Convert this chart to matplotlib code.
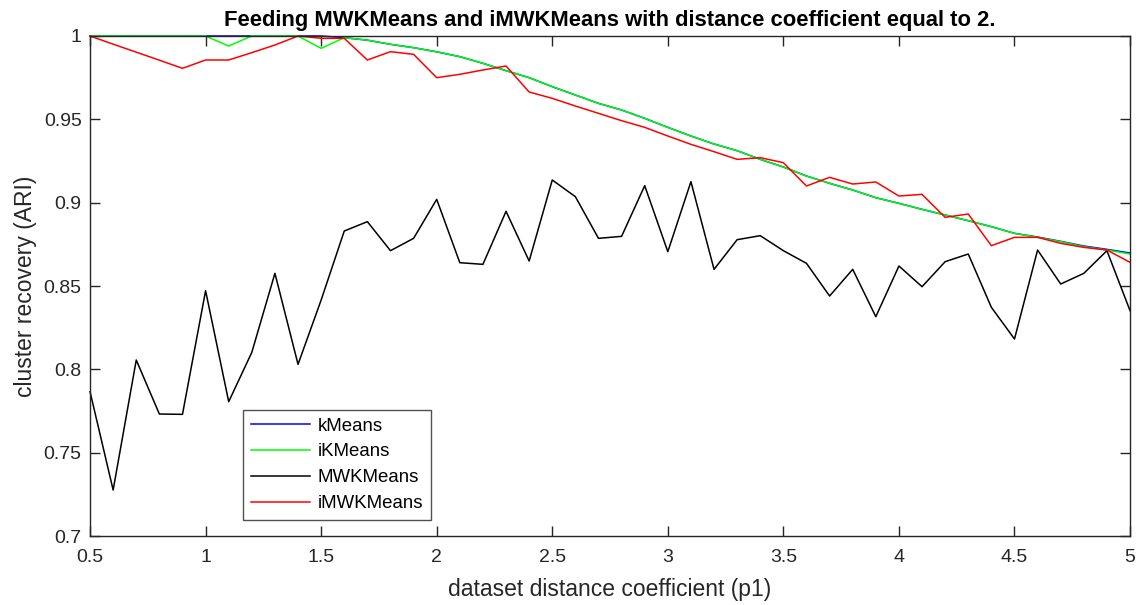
import matplotlib
matplotlib.use("Agg")
import matplotlib.pyplot as plt
import numpy as np

plt.rcParams['font.family'] = ['Liberation Sans', 'DejaVu Sans']

# dataset distance coefficient p1 = 0.5 .. 5.0, step 0.1
p1 = np.round(np.arange(0.5, 5.01, 0.1), 1)

kmeans = [1.0, 1.0, 1.0, 1.0, 1.0, 1.0, 1.0, 1.0, 1.0, 1.0,
          1.0, 0.999, 0.9975, 0.995, 0.993, 0.9905, 0.9876, 0.9836, 0.9792, 0.975,
          0.9696, 0.9646, 0.9596, 0.9556, 0.9506, 0.9452, 0.94, 0.9352, 0.9312, 0.926,
          0.9214, 0.916, 0.9116, 0.9076, 0.903, 0.8996, 0.896, 0.8926, 0.8892, 0.8856,
          0.8816, 0.8794, 0.8768, 0.874, 0.872, 0.8698]

ikmeans = [1.0, 1.0, 1.0, 1.0, 1.0, 1.0, 0.994, 1.0, 1.0, 1.0,
           0.9926, 0.999, 0.9975, 0.995, 0.993, 0.9905, 0.9876, 0.9836, 0.9792, 0.975,
           0.9696, 0.9646, 0.9596, 0.9556, 0.9506, 0.9452, 0.94, 0.9352, 0.9312, 0.926,
           0.9214, 0.916, 0.9116, 0.9076, 0.903, 0.8996, 0.896, 0.8926, 0.8892, 0.8856,
           0.8816, 0.8792, 0.8766, 0.8736, 0.8716, 0.8692]

mwkmeans = [0.7866, 0.7276, 0.8056, 0.7732, 0.773, 0.8472, 0.7806, 0.8102, 0.8576, 0.803,
            0.8416, 0.883, 0.8886, 0.8712, 0.8786, 0.902, 0.864, 0.863, 0.8948, 0.865,
            0.9136, 0.9036, 0.8786, 0.8798, 0.9102, 0.8706, 0.9126, 0.86, 0.8778, 0.8802,
            0.8712, 0.8636, 0.844, 0.86, 0.8316, 0.862, 0.8496, 0.8646, 0.8692, 0.8372,
            0.8182, 0.8716, 0.8512, 0.8576, 0.8712, 0.8352]

imwkmeans = [1.0, 0.9951, 0.9903, 0.9855, 0.9806, 0.9856, 0.9856, 0.99, 0.9946, 1.0,
             0.9986, 0.9986, 0.9856, 0.9906, 0.989, 0.975, 0.977, 0.9796, 0.982, 0.9664,
             0.9626, 0.958, 0.9536, 0.9492, 0.9452, 0.94, 0.935, 0.9306, 0.926, 0.927,
             0.924, 0.91, 0.9152, 0.9112, 0.9124, 0.904, 0.905, 0.8912, 0.8932, 0.8742,
             0.8792, 0.8792, 0.8756, 0.8732, 0.8716, 0.8642]

fig = plt.figure(figsize=(11.44, 6.05), dpi=100)
ax = fig.add_axes([0.0787, 0.114, 0.9091, 0.8265])

# clip_on=False so the lines sitting at ARI = 1 are drawn in full over the top edge
ax.plot(p1, kmeans, color='#0000ff', lw=1.1, label='kMeans', clip_on=False)
ax.plot(p1, ikmeans, color='#00ff00', lw=1.1, label='iKMeans', clip_on=False)
ax.plot(p1, mwkmeans, color='black', lw=1.1, label='MWKMeans', clip_on=False)
ax.plot(p1, imwkmeans, color='#ff0000', lw=1.1, label='iMWKMeans', clip_on=False)

ax.set_xlim(0.5, 5)
ax.set_ylim(0.7, 1)
ax.set_xticks(np.arange(0.5, 5.01, 0.5))
ax.set_xticklabels(['0.5', '1', '1.5', '2', '2.5', '3', '3.5', '4', '4.5', '5'])
ax.set_yticks(np.arange(0.7, 1.001, 0.05))
ax.set_yticklabels(['0.7', '0.75', '0.8', '0.85', '0.9', '0.95', '1'])
ax.tick_params(direction='in', top=True, right=True, length=7, width=1.0,
               labelsize=14, color='#262626', labelcolor='#262626')
ax.tick_params(axis='x', pad=9)
ax.tick_params(axis='y', pad=6)
for s in ax.spines.values():
    s.set_color('#262626')
    s.set_linewidth(1.0)

ax.set_xlabel('dataset distance coefficient (p1)', fontsize=16.5, color='#262626', labelpad=9)
ax.set_ylabel('cluster recovery (ARI)', fontsize=16.5, color='#262626', labelpad=5)
ax.set_title('Feeding MWKMeans and iMWKMeans with distance coefficient equal to 2.',
             fontsize=15.8, fontweight='bold', pad=7)

leg = ax.legend(loc='lower left', bbox_to_anchor=(0.147, 0.032), fontsize=13.4,
                frameon=True, fancybox=False, edgecolor='#262626', handlelength=3.2,
                borderpad=0.43, labelspacing=0.47, handletextpad=0.4, borderaxespad=0)
leg.get_frame().set_linewidth(1.0)

fig.savefig('out.png', dpi=100)
